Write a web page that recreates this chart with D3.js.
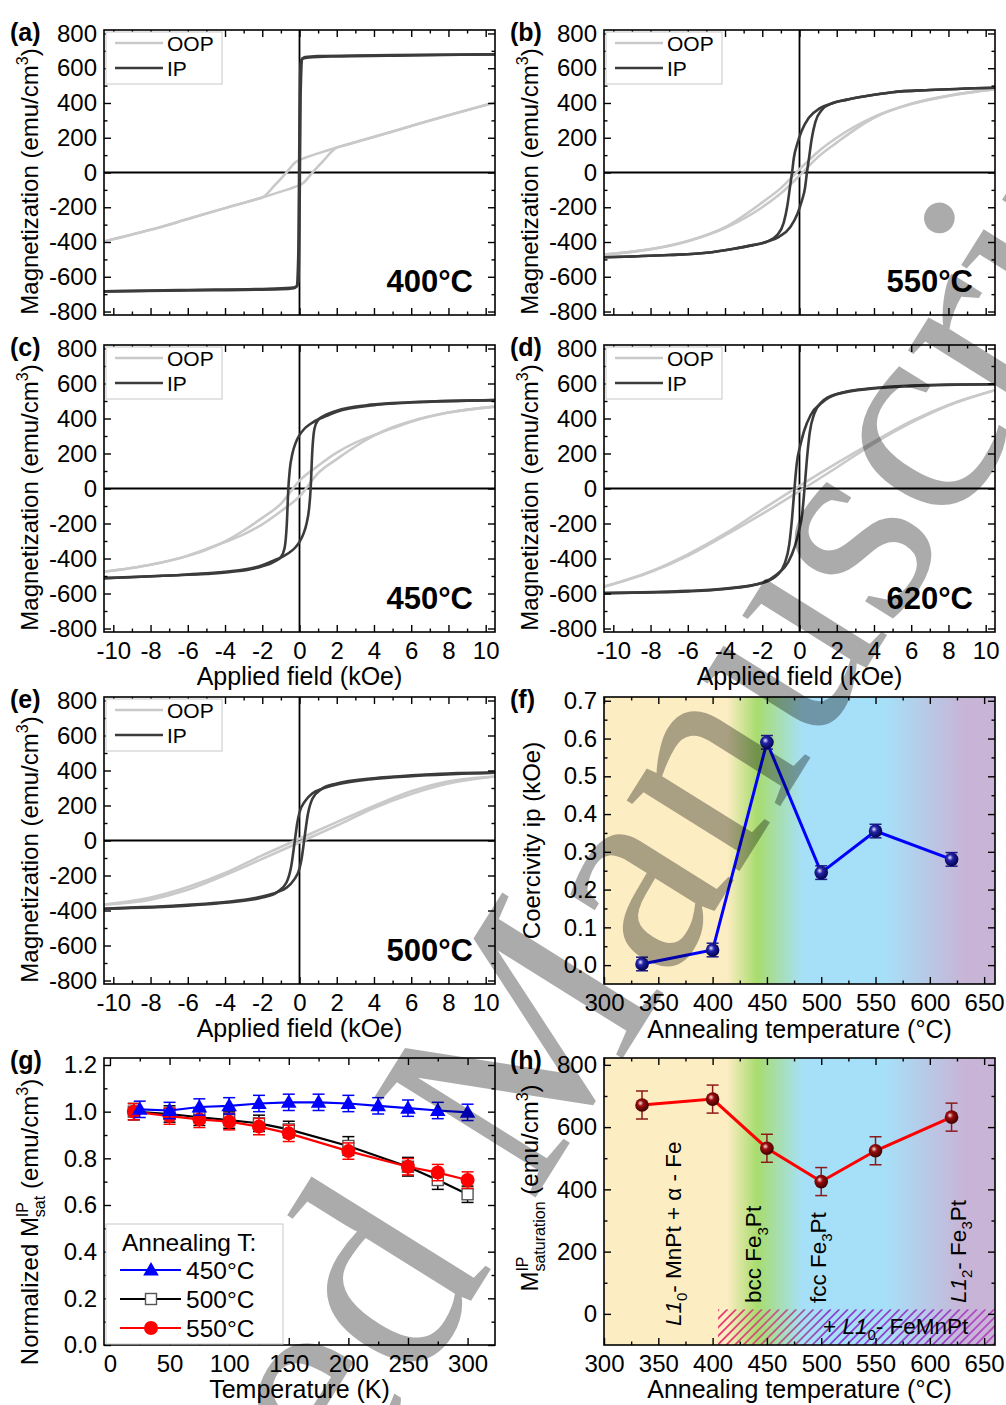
<!DOCTYPE html>
<html>
<head>
<meta charset="utf-8">
<script src="https://cdn.jsdelivr.net/npm/d3@7"></script>
<style>
body { margin: 0; background: #fff; }
svg text { font-family: "Liberation Sans", Arial, sans-serif; fill: #000; }
</style>
</head>
<body>
<script>
//----- tick labels -----
var fieldTicks = [-10, -8, -6, -4, -2, 0, 2, 4, 6, 8, 10],
    fieldMinor = [-9, -7, -5, -3, -1, 1, 3, 5, 7, 9],
    magTicks = [-800, -600, -400, -200, 0, 200, 400, 600, 800],
    magMinor = [-700, -500, -300, -100, 100, 300, 500, 700],
    annealTicks = [300, 350, 400, 450, 500, 550, 600, 650],
    annealMinor = [325, 375, 425, 475, 525, 575, 625],
    coerTicks = [0, 0.1, 0.2, 0.3, 0.4, 0.5, 0.6, 0.7],
    coerMinor = [0.05, 0.15, 0.25, 0.35, 0.45, 0.55, 0.65],
    kelvinTicks = [0, 50, 100, 150, 200, 250, 300],
    kelvinMinor = [25, 75, 125, 175, 225, 275],
    normTicks = [0, 0.2, 0.4, 0.6, 0.8, 1.0, 1.2],
    normMinor = [0.1, 0.3, 0.5, 0.7, 0.9, 1.1],
    satTicks = [0, 200, 400, 600, 800],
    satMinor = [100, 300, 500, 700];

//----- hysteresis loops [field kOe, magnetization emu/cm3], branches sorted by field -----
var ipDown400 = [[-10.5,-684],[-5,-678],[-1,-672],[-0.3,-666],[-0.15,-655],[-0.06,-450],[0,300],[0.06,630],[0.15,655],[0.5,662],[2,668],[6,674],[10.5,680]],
    ipUp400 = [[-10.5,-684],[-6,-676],[-2,-670],[-0.5,-664],[-0.15,-655],[-0.06,-630],[0,-300],[0.06,450],[0.15,655],[0.3,664],[1,670],[5,676],[10.5,680]],
    oopDown400 = [[-10.5,-397],[-8,-330],[-6,-268],[-4,-205],[-2.2,-150],[-2,-144],[-1.3,-70],[-0.7,0],[-0.2,60],[0.3,85],[1,110],[2,144],[4,205],[6,268],[8,330],[10.5,403]],
    oopUp400 = [[-10.5,-397],[-8,-330],[-6,-268],[-4,-205],[-2,-144],[-1,-110],[-0.3,-85],[0.2,-60],[0.7,0],[1.3,70],[2,144],[2.2,150],[4,205],[6,268],[8,330],[10.5,403]];

var ipDown550 = [[-10.5,-488],[-7,-475],[-5,-462],[-3.6,-440],[-2.5,-418],[-1.8,-400],[-1.2,-360],[-0.85,-290],[-0.65,-190],[-0.52,-90],[-0.4,0],[-0.3,86],[-0.12,165],[0.12,240],[0.5,315],[1.1,370],[1.8,400],[2.5,418],[3.6,440],[5,462],[7,475],[10.5,488]],
    ipUp550 = [[-10.5,-488],[-7,-475],[-5,-462],[-3.6,-440],[-2.5,-418],[-1.8,-400],[-1.1,-370],[-0.5,-315],[-0.12,-240],[0.12,-165],[0.3,-86],[0.4,0],[0.52,90],[0.65,190],[0.85,290],[1.2,360],[1.8,400],[2.5,418],[3.6,440],[5,462],[7,475],[10.5,488]],
    oopDown550 = [[-10.5,-472],[-8,-442],[-6,-395],[-4,-315],[-2,-172],[-1,-90],[0,18],[1,120],[2,200],[4,320],[6,394],[8,441],[10.5,480]],
    oopUp550 = [[-10.5,-472],[-8,-441],[-6,-394],[-4,-320],[-2,-200],[-1,-120],[0,-18],[1,90],[2,172],[4,315],[6,395],[8,442],[10.5,480]];

var ipDown450 = [[-10.5,-512],[-7,-497],[-5,-488],[-3.6,-476],[-2,-445],[-1.4,-420],[-1,-392],[-0.8,-340],[-0.68,-200],[-0.6,0],[-0.52,110],[-0.38,200],[-0.2,262],[0,305],[0.25,340],[0.6,370],[1.1,400],[1.4,412],[2,438],[4,476],[6,491],[10.5,505]],
    ipUp450 = [[-10.5,-512],[-6,-491],[-4,-476],[-2,-438],[-1.4,-412],[-1.1,-400],[-0.6,-370],[-0.25,-340],[0,-305],[0.2,-262],[0.38,-200],[0.52,-110],[0.6,0],[0.68,200],[0.8,340],[1,392],[1.4,420],[2,445],[3.6,476],[5,488],[7,497],[10.5,505]],
    oopDown450 = [[-10.5,-476],[-8,-436],[-6,-385],[-5,-350],[-4,-302],[-3,-240],[-2,-168],[-1,-88],[0,45],[1,130],[2,205],[3,262],[4,305],[5,345],[6,382],[8,434],[10.5,468]],
    oopUp450 = [[-10.5,-476],[-8,-436],[-6,-384],[-5,-346],[-4,-306],[-3,-262],[-2,-205],[-1,-130],[0,-45],[1,88],[2,168],[3,240],[4,302],[5,350],[6,385],[8,434],[10.5,468]];

var ipDown620 = [[-10.5,-598],[-8,-594],[-6,-588],[-4,-574],[-2,-540],[-1.2,-495],[-0.8,-430],[-0.55,-320],[-0.4,-170],[-0.27,0],[-0.15,140],[0.05,250],[0.25,330],[0.6,420],[1.2,490],[2,538],[4,572],[6,585],[10.5,596]],
    ipUp620 = [[-10.5,-598],[-6,-585],[-4,-572],[-2,-538],[-1.2,-490],[-0.6,-420],[-0.25,-330],[-0.05,-250],[0.15,-140],[0.27,0],[0.4,170],[0.55,320],[0.8,430],[1.2,495],[2,540],[4,574],[6,588],[8,594],[10.5,596]],
    oopDown620 = [[-10.5,-561],[-8,-474],[-6,-376],[-4,-258],[-2,-120],[0,15],[2,145],[4,268],[6,385],[8,478],[10.5,562]],
    oopUp620 = [[-10.5,-561],[-8,-478],[-6,-385],[-4,-268],[-2,-145],[0,-15],[2,120],[4,258],[6,376],[8,474],[10.5,562]];

var ipDown500 = [[-10.5,-390],[-8,-383],[-6,-372],[-4,-356],[-2,-326],[-1.2,-295],[-0.7,-240],[-0.45,-150],[-0.25,0],[-0.12,100],[0,160],[0.3,225],[0.7,270],[1.2,295],[2,320],[4,352],[6,368],[10.5,388]],
    ipUp500 = [[-10.5,-390],[-6,-368],[-4,-352],[-2,-320],[-1.2,-295],[-0.7,-270],[-0.3,-225],[0,-160],[0.12,-100],[0.25,0],[0.45,150],[0.7,240],[1.2,295],[2,326],[4,356],[6,372],[8,383],[10.5,388]],
    oopDown500 = [[-10.5,-366],[-8,-326],[-6,-266],[-4,-186],[-2,-85],[0,10],[2,105],[4,198],[6,282],[8,338],[10.5,366]],
    oopUp500 = [[-10.5,-366],[-8,-338],[-6,-282],[-4,-198],[-2,-105],[0,-10],[2,85],[4,186],[6,266],[8,326],[10.5,366]];

//----- annealing series (f, h) -----
var annealT = [335, 400, 450, 500, 550, 620],
    coercivity = [0.003, 0.04, 0.59, 0.245, 0.355, 0.28],
    coercivityErr = [0.018, 0.018, 0.018, 0.018, 0.018, 0.018],
    mSat = [671, 690, 532, 425, 524, 632],
    mSatErr = [45, 45, 45, 45, 45, 45];

//----- temperature series (g) -----
var tempK450 = [25, 50, 75, 100, 125, 150, 175, 200, 225, 250, 275, 300],
    norm450 = [1.01, 1.005, 1.02, 1.025, 1.035, 1.04, 1.04, 1.035, 1.025, 1.015, 1.005, 0.997],
    err450 = [0.035, 0.035, 0.035, 0.035, 0.035, 0.035, 0.035, 0.035, 0.035, 0.035, 0.035, 0.035],
    tempK = [20, 50, 75, 100, 125, 150, 200, 250, 275, 300],
    norm500 = [1.0, 0.99, 0.976, 0.964, 0.95, 0.924, 0.853, 0.764, 0.707, 0.646],
    err500 = [0.035, 0.035, 0.035, 0.035, 0.035, 0.035, 0.04, 0.04, 0.04, 0.035],
    norm550 = [1.0, 0.981, 0.967, 0.957, 0.936, 0.907, 0.831, 0.764, 0.739, 0.707],
    err550 = [0.035, 0.035, 0.035, 0.035, 0.035, 0.035, 0.035, 0.035, 0.035, 0.035];

//phase background colours of (f) and (h)
var phaseT = [300, 413, 441, 483, 558, 633, 660],
    phaseColor = ["#fdedc3", "#fdedc3", "#a8dc6e", "#a6e0f8", "#a6e0f8", "#c8b4d6", "#c8b4d6"];

//----- frame -----
var svg = d3.select("body").append("svg")
    .attr("width", 1006)
    .attr("height", 1405);
var defs = svg.append("defs");

var colLeft = [104, 604], plotW = 391;
var rows = [[30, 315], [345, 632], [697, 984], [1058, 1345]];

function textWidth(str, size){
    var t = svg.append("text").attr("font-size", size).text(str);
    var w = t.node().getComputedTextLength();
    t.remove();
    return w;
}

//text with sub/superscripts, parts = [{t, sup, sub, italic, back}]
function rich(sel, parts, size){
    var cur = 0, small = Math.round(size * 0.66);
    parts.forEach(function(p){
        var shift = p.sup ? -size * 0.42 : (p.sub ? size * 0.28 : 0);
        var ts = sel.append("tspan").text(p.t)
            .attr("dy", (shift - cur).toFixed(2))
            .attr("font-size", (p.sup || p.sub) ? small : size);
        if (p.italic) ts.attr("font-style", "italic");
        if (p.back) ts.attr("dx", -textWidth(p.back, small));
        cur = shift;
    });
}

function yTitle(cx, cy, parts){
    var t = svg.append("text")
        .attr("transform", "translate(" + cx + "," + cy + ") rotate(-90)")
        .attr("text-anchor", "middle")
        .attr("font-size", 24);
    rich(t, parts, 24);
}

function xTitle(cx, y, str){
    svg.append("text").attr("x", cx).attr("y", y)
        .attr("text-anchor", "middle").attr("font-size", 25).text(str);
}

function panelLabel(x, y, str){
    svg.append("text").attr("x", x).attr("y", y)
        .attr("font-size", 25).attr("font-weight", "bold").text(str);
}

function styleAxis(a){
    a.select(".domain").remove();
    a.attr("font-family", null).attr("font-size", 24);
    a.selectAll("line").attr("stroke", "#000").attr("stroke-width", 1.4);
}

//boxed axes with inward major/minor ticks on all sides
function drawAxes(g, x, y, o){
    var x0 = x.range()[0], x1 = x.range()[1],
        yb = y.range()[0], yt = y.range()[1];
    g.append("g").attr("transform", "translate(0," + yb + ")")
        .call(d3.axisBottom(x).tickValues(o.xMajor).tickSize(-7).tickPadding(10)
            .tickFormat(o.xLabels ? o.xFmt : "")).call(styleAxis);
    g.append("g").attr("transform", "translate(0," + yb + ")")
        .call(d3.axisBottom(x).tickValues(o.xMinor).tickSize(-3.5).tickFormat("")).call(styleAxis);
    g.append("g").attr("transform", "translate(0," + yt + ")")
        .call(d3.axisTop(x).tickValues(o.xMajor).tickSize(-7).tickFormat("")).call(styleAxis);
    g.append("g").attr("transform", "translate(0," + yt + ")")
        .call(d3.axisTop(x).tickValues(o.xMinor).tickSize(-3.5).tickFormat("")).call(styleAxis);
    g.append("g").attr("transform", "translate(" + x0 + ",0)")
        .call(d3.axisLeft(y).tickValues(o.yMajor).tickSize(-7).tickPadding(7)
            .tickFormat(o.yFmt)).call(styleAxis);
    g.append("g").attr("transform", "translate(" + x0 + ",0)")
        .call(d3.axisLeft(y).tickValues(o.yMinor).tickSize(-3.5).tickFormat("")).call(styleAxis);
    g.append("g").attr("transform", "translate(" + x1 + ",0)")
        .call(d3.axisRight(y).tickValues(o.yMajor).tickSize(-7).tickFormat("")).call(styleAxis);
    g.append("g").attr("transform", "translate(" + x1 + ",0)")
        .call(d3.axisRight(y).tickValues(o.yMinor).tickSize(-3.5).tickFormat("")).call(styleAxis);
    g.append("rect")
        .attr("x", x0).attr("y", yt)
        .attr("width", x1 - x0).attr("height", yb - yt)
        .attr("fill", "none").attr("stroke", "#000").attr("stroke-width", 1.6);
}

var plainFmt = function(d){ return String(d); };
var oneDec = d3.format(".1f");

//----- hysteresis panels (a)-(e) -----
function loopPanel(id, label, left, row, tempText, oopDown, oopUp, ipDown, ipUp, showX){
    var top = row[0], bottom = row[1], right = left + plotW;
    var x = d3.scaleLinear().domain([-10.5, 10.5]).range([left, right]);
    var y = d3.scaleLinear().domain([-820, 820]).range([bottom, top]);
    var g = svg.append("g");

    defs.append("clipPath").attr("id", "clip" + id).append("rect")
        .attr("x", left).attr("y", top)
        .attr("width", plotW).attr("height", bottom - top);
    var plot = g.append("g").attr("clip-path", "url(#clip" + id + ")");

    //zero lines
    plot.append("line").attr("x1", left).attr("x2", right)
        .attr("y1", y(0)).attr("y2", y(0))
        .attr("stroke", "#000").attr("stroke-width", 1.8);
    plot.append("line").attr("x1", x(0)).attr("x2", x(0))
        .attr("y1", top).attr("y2", bottom)
        .attr("stroke", "#000").attr("stroke-width", 1.8);

    var line = d3.line()
        .x(function(d){ return x(d[0]); })
        .y(function(d){ return y(d[1]); })
        .curve(d3.curveMonotoneX);

    [oopDown, oopUp].forEach(function(b){
        plot.append("path").attr("d", line(b))
            .attr("fill", "none").attr("stroke", "#c9c9c9").attr("stroke-width", 2.6);
    });
    [ipDown, ipUp].forEach(function(b){
        plot.append("path").attr("d", line(b))
            .attr("fill", "none").attr("stroke", "#3b3b3b").attr("stroke-width", 2.6);
    });

    drawAxes(g, x, y, {
        xMajor: fieldTicks, xMinor: fieldMinor, xFmt: plainFmt, xLabels: showX,
        yMajor: magTicks, yMinor: magMinor, yFmt: plainFmt
    });

    //legend
    var lg = g.append("g");
    lg.append("rect").attr("x", left + 2).attr("y", top + 2)
        .attr("width", 116).attr("height", 52)
        .attr("fill", "#fff").attr("stroke", "#c8c8c8").attr("stroke-width", 1);
    [["OOP", "#c9c9c9", 13], ["IP", "#3b3b3b", 38]].forEach(function(e){
        lg.append("line").attr("x1", left + 11).attr("x2", left + 59)
            .attr("y1", top + e[2]).attr("y2", top + e[2])
            .attr("stroke", e[1]).attr("stroke-width", 2.6);
        lg.append("text").attr("x", left + 63).attr("y", top + e[2] + 7.5)
            .attr("font-size", 21).text(e[0]);
    });

    svg.append("text").attr("x", left + 369).attr("y", bottom - 23)
        .attr("text-anchor", "end").attr("font-size", 31).attr("font-weight", "bold")
        .text(tempText);

    panelLabel(left - 94, top + 11, label);
    yTitle(left - 66, (top + bottom) / 2 + 9, [{t: "Magnetization (emu/cm"}, {t: "3", sup: true}, {t: ")"}]);
    if (showX) xTitle(left + plotW / 2, bottom + 53, "Applied field (kOe)");
}

loopPanel("a", "(a)", colLeft[0], rows[0], "400°C", oopDown400, oopUp400, ipDown400, ipUp400, false);
loopPanel("b", "(b)", colLeft[1], rows[0], "550°C", oopDown550, oopUp550, ipDown550, ipUp550, false);
loopPanel("c", "(c)", colLeft[0], rows[1], "450°C", oopDown450, oopUp450, ipDown450, ipUp450, true);
loopPanel("d", "(d)", colLeft[1], rows[1], "620°C", oopDown620, oopUp620, ipDown620, ipUp620, true);
loopPanel("e", "(e)", colLeft[0], rows[2], "500°C", oopDown500, oopUp500, ipDown500, ipUp500, true);

//----- shared phase background gradient -----
var xA = d3.scaleLinear().domain([300, 660]).range([colLeft[1], colLeft[1] + plotW]);
var phaseGrad = defs.append("linearGradient").attr("id", "phaseGrad")
    .attr("gradientUnits", "userSpaceOnUse")
    .attr("x1", xA(300)).attr("x2", xA(660)).attr("y1", 0).attr("y2", 0);
phaseT.forEach(function(t, i){
    phaseGrad.append("stop").attr("offset", (t - 300) / 360).attr("stop-color", phaseColor[i]);
});

function ballGrad(id, hi, mid, edge){
    var rg = defs.append("radialGradient").attr("id", id)
        .attr("cx", "42%").attr("cy", "40%").attr("r", "62%").attr("fx", "38%").attr("fy", "36%");
    rg.append("stop").attr("offset", 0).attr("stop-color", hi);
    rg.append("stop").attr("offset", 0.35).attr("stop-color", mid);
    rg.append("stop").attr("offset", 1).attr("stop-color", edge);
}
ballGrad("ballBlue", "#e8e8ff", "#2323a8", "#00004a");
ballGrad("ballRed", "#ffdcdc", "#9a0c0c", "#3a0000");

function errorBars(g, xs, ys, errs, x, y, color){
    xs.forEach(function(t, i){
        var cx = x(t), y1 = y(ys[i] + errs[i]), y2 = y(ys[i] - errs[i]);
        g.append("line").attr("x1", cx).attr("x2", cx).attr("y1", y1).attr("y2", y2)
            .attr("stroke", color).attr("stroke-width", 1.5);
        [y1, y2].forEach(function(yy){
            g.append("line").attr("x1", cx - 6).attr("x2", cx + 6).attr("y1", yy).attr("y2", yy)
                .attr("stroke", color).attr("stroke-width", 1.5);
        });
    });
}

//----- (f) coercivity -----
(function(){
    var top = rows[2][0], bottom = rows[2][1], left = colLeft[1];
    var y = d3.scaleLinear().domain([-0.05, 0.71]).range([bottom, top]);
    var g = svg.append("g");
    g.append("rect").attr("x", left).attr("y", top).attr("width", plotW).attr("height", bottom - top)
        .attr("fill", "url(#phaseGrad)");
    g.append("path").datum(annealT)
        .attr("d", d3.line().x(function(d){ return xA(d); }).y(function(d, i){ return y(coercivity[i]); }))
        .attr("fill", "none").attr("stroke", "#0000ff").attr("stroke-width", 3);
    errorBars(g, annealT, coercivity, coercivityErr, xA, y, "#1a1a8c");
    g.selectAll(".ballF").data(annealT).enter().append("circle")
        .attr("cx", function(d){ return xA(d); })
        .attr("cy", function(d, i){ return y(coercivity[i]); })
        .attr("r", 6.8).attr("fill", "url(#ballBlue)");
    drawAxes(g, xA, y, {
        xMajor: annealTicks, xMinor: annealMinor, xFmt: plainFmt, xLabels: true,
        yMajor: coerTicks, yMinor: coerMinor, yFmt: oneDec
    });
    panelLabel(left - 94, top + 11, "(f)");
    yTitle(left - 64, (top + bottom) / 2, [{t: "Coercivity ip (kOe)"}]);
    xTitle(left + plotW / 2, bottom + 54, "Annealing temperature (°C)");
})();

//----- (g) normalized saturation vs temperature -----
(function(){
    var top = rows[3][0], bottom = rows[3][1], left = colLeft[0];
    var x = d3.scaleLinear().domain([-5, 323]).range([left, left + plotW]);
    var y = d3.scaleLinear().domain([0, 1.23]).range([bottom, top]);
    var g = svg.append("g");

    function series(ts, vals, errs, color, marker){
        g.append("path").datum(ts)
            .attr("d", d3.line().x(function(d){ return x(d); }).y(function(d, i){ return y(vals[i]); }))
            .attr("fill", "none").attr("stroke", color).attr("stroke-width", 2.2);
        errorBars(g, ts, vals, errs, x, y, color);
        ts.forEach(function(t, i){ marker(g, x(t), y(vals[i])); });
    }
    function square(s, cx, cy){
        s.append("rect").attr("x", cx - 5.5).attr("y", cy - 5.5).attr("width", 11).attr("height", 11)
            .attr("fill", "#fff").attr("stroke", "#555").attr("stroke-width", 1.4);
    }
    function dot(s, cx, cy){
        s.append("circle").attr("cx", cx).attr("cy", cy).attr("r", 7).attr("fill", "#ff0000");
    }
    function tri(s, cx, cy){
        s.append("path").attr("transform", "translate(" + cx + "," + (cy + 1) + ")")
            .attr("d", d3.symbol().type(d3.symbolTriangle).size(105)()).attr("fill", "#0000ff");
    }
    series(tempK, norm500, err500, "#000", square);
    series(tempK, norm550, err550, "#ff0000", dot);
    series(tempK450, norm450, err450, "#0000ff", tri);

    drawAxes(g, x, y, {
        xMajor: kelvinTicks, xMinor: kelvinMinor, xFmt: plainFmt, xLabels: true,
        yMajor: normTicks, yMinor: normMinor, yFmt: oneDec
    });

    //legend
    var lg = g.append("g");
    lg.append("rect").attr("x", 106).attr("y", 1224).attr("width", 177).attr("height", 120)
        .attr("fill", "#fff").attr("stroke", "#c8c8c8").attr("stroke-width", 1);
    lg.append("text").attr("x", 122).attr("y", 1251).attr("font-size", 24.5).text("Annealing T:");
    [["450°C", "#0000ff", tri, 1270], ["500°C", "#000", square, 1299], ["550°C", "#ff0000", dot, 1328]]
        .forEach(function(e){
            lg.append("line").attr("x1", 120).attr("x2", 181).attr("y1", e[3]).attr("y2", e[3])
                .attr("stroke", e[1]).attr("stroke-width", 2.2);
            e[2](lg, 151, e[3]);
            lg.append("text").attr("x", 186).attr("y", e[3] + 9).attr("font-size", 24.5).text(e[0]);
        });

    panelLabel(left - 94, top + 11, "(g)");
    yTitle(left - 66, 1222, [{t: "Normalized M"}, {t: "IP", sup: true}, {t: "sat", sub: true, back: "IP"},
        {t: " (emu/cm"}, {t: "3", sup: true}, {t: ")"}]);
    xTitle(left + plotW / 2, bottom + 53, "Temperature (K)");
})();

//----- (h) saturation magnetization vs annealing -----
(function(){
    var top = rows[3][0], bottom = rows[3][1], left = colLeft[1], right = left + plotW;
    var y = d3.scaleLinear().domain([-100, 822]).range([bottom, top]);
    var g = svg.append("g");
    g.append("rect").attr("x", left).attr("y", top).attr("width", plotW).attr("height", bottom - top)
        .attr("fill", "url(#phaseGrad)");

    //hatched L1_0-FeMnPt band
    var hx0 = xA(405), hy0 = y(15), hh = bottom - hy0;
    defs.append("clipPath").attr("id", "hatchClip").append("rect")
        .attr("x", hx0).attr("y", hy0).attr("width", right - hx0).attr("height", hh);
    var hGrad = defs.append("linearGradient").attr("id", "hatchGrad")
        .attr("gradientUnits", "userSpaceOnUse")
        .attr("x1", hx0).attr("x2", right).attr("y1", 0).attr("y2", 0);
    [[0, "#ea3470"], [0.18, "#c9577c"], [0.3, "#a05a98"], [0.4, "#8a3ed2"], [0.8, "#9a40c8"], [1, "#bb4cc2"]]
        .forEach(function(s){ hGrad.append("stop").attr("offset", s[0]).attr("stop-color", s[1]); });
    var hatch = g.append("g").attr("clip-path", "url(#hatchClip)");
    d3.range(hx0 - hh, right, 8.6).forEach(function(s){
        hatch.append("line").attr("x1", s).attr("y1", bottom + 1).attr("x2", s + hh + 1).attr("y2", hy0)
            .attr("stroke", "url(#hatchGrad)").attr("stroke-width", 1.8);
    });

    //phase labels
    function vlabel(t, parts){
        var tx = g.append("text")
            .attr("transform", "translate(" + xA(t[0]) + "," + t[1] + ") rotate(-90)")
            .attr("font-size", 22.5);
        rich(tx, parts, 22.5);
    }
    vlabel([371, 1326], [{t: "L1", italic: true}, {t: "0", sub: true}, {t: "- MnPt + α - Fe"}]);
    vlabel([445, 1303], [{t: "bcc Fe"}, {t: "3", sub: true}, {t: "Pt"}]);
    vlabel([504, 1303], [{t: "fcc Fe"}, {t: "3", sub: true}, {t: "Pt"}]);
    vlabel([633, 1303], [{t: "L1", italic: true}, {t: "2", sub: true}, {t: "- Fe"}, {t: "3", sub: true}, {t: "Pt"}]);
    var ht = g.append("text").attr("x", 823).attr("y", 1334).attr("font-size", 22.5);
    rich(ht, [{t: "+ "}, {t: "L1", italic: true}, {t: "0", sub: true}, {t: "- FeMnPt"}], 22.5);

    g.append("path").datum(annealT)
        .attr("d", d3.line().x(function(d){ return xA(d); }).y(function(d, i){ return y(mSat[i]); }))
        .attr("fill", "none").attr("stroke", "#ff0000").attr("stroke-width", 3);
    errorBars(g, annealT, mSat, mSatErr, xA, y, "#8c1a1a");
    g.selectAll(".ballH").data(annealT).enter().append("circle")
        .attr("cx", function(d){ return xA(d); })
        .attr("cy", function(d, i){ return y(mSat[i]); })
        .attr("r", 6.8).attr("fill", "url(#ballRed)");

    drawAxes(g, xA, y, {
        xMajor: annealTicks, xMinor: annealMinor, xFmt: plainFmt, xLabels: true,
        yMajor: satTicks, yMinor: satMinor, yFmt: plainFmt
    });
    panelLabel(left - 94, top + 11, "(h)");
    yTitle(left - 66, 1188, [{t: "M"}, {t: "IP", sup: true}, {t: "saturation", sub: true, back: "IP"},
        {t: " (emu/cm"}, {t: "3", sup: true}, {t: ")"}]);
    xTitle(left + plotW / 2, bottom + 53, "Annealing temperature (°C)");
})();

//----- journal watermark -----
svg.append("text")
    .attr("transform", "translate(515,1104) rotate(-58)")
    .attr("text-anchor", "middle")
    .attr("y", 67)
    .attr("font-size", 290)
    .style("font-family", "'Liberation Serif', 'Times New Roman', serif")
    .attr("fill", "#000")
    .attr("fill-opacity", 0.33)
    .text("Accepted Manuscript");
</script>
</body>
</html>
